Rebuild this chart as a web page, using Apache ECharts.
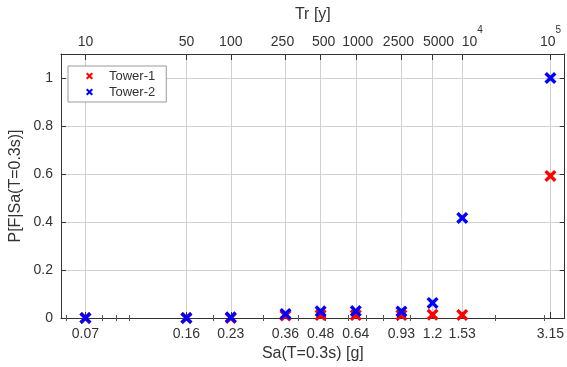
<!DOCTYPE html>
<html>
<head>
<meta charset="utf-8">
<script src="https://cdn.jsdelivr.net/npm/echarts@6/dist/echarts.min.js"></script>
<style>
  html, body { margin: 0; padding: 0; background: #fff; }
  #main { width: 567px; height: 367px; }
</style>
</head>
<body>
<div id="main"></div>
<script>
// spectral acceleration levels (bottom axis) and matching return periods (top axis)
const saValues = [0.07, 0.16, 0.23, 0.36, 0.48, 0.64, 0.93, 1.2, 1.53, 3.15];
const trLabels = ['10', '50', '100', '250', '500', '1000', '2500', '5000', '10^4', '10^5'];
const minorTicks = [0.06, 0.08, 0.09, 0.1, 0.2, 0.3, 0.4, 0.5, 0.6, 0.7, 0.8, 0.9, 1, 2, 3];
const yTicks = [0, 0.2, 0.4, 0.6, 0.8, 1];

// probability of failure per level
const tower1 = [0, 0, 0, 0.01, 0.012, 0.012, 0.012, 0.014, 0.013, 0.592];
const tower2 = [0, 0, 0.003, 0.017, 0.028, 0.029, 0.027, 0.063, 0.417, 1.0];

const xMin = 0.0573, xMax = 3.54;
const font = 'Liberation Sans, Arial, sans-serif';
const txt = '#333';
const lineCol = '#333';
const cross = 'path://M0,2L2,0L5,3L8,0L10,2L7,5L10,8L8,10L5,7L2,10L0,8L3,5Z';

// small horizontal nudges of the top labels (px), as laid out in the original
const trShift = [0, 0, 0, -3, 3, 2, -3, 6, 10, 0];

function pairs(ys) {
  return saValues.map((x, i) => [x, ys[i]]);
}

function trFormat(v) {
  const i = saValues.findIndex(s => Math.abs(s - v) < 1e-6);
  if (i < 0) return '';
  const t = trLabels[i];
  const d = trShift[i];
  const pad = d > 0 ? '{pl' + d + '|}' : '';
  const padR = d < 0 ? '{pr' + (-d) + '|}' : '';
  let body;
  if (t.indexOf('^') > 0) {
    const p = t.split('^');
    body = '{b|' + p[0] + '}{s|' + p[1] + '}';
  } else {
    body = '{b|' + t + '}';
  }
  return pad + body + padR;
}

const richTop = {
  b: { fontFamily: font, fontSize: 14, color: txt, lineHeight: 24, verticalAlign: 'bottom' },
  s: { fontFamily: font, fontSize: 10, color: txt, lineHeight: 24, verticalAlign: 'top' }
};
trShift.forEach(d => {
  if (d > 0) richTop['pl' + d] = { width: 2 * d, lineHeight: 24 };
  if (d < 0) richTop['pr' + (-d)] = { width: -2 * d, lineHeight: 24 };
});

const chart = echarts.init(document.getElementById('main'));

const baseX = {
  type: 'log',
  min: xMin,
  max: xMax,
  axisLine: { show: true, onZero: false, lineStyle: { color: lineCol, width: 1 } },
  axisTick: { inside: true, length: 6, lineStyle: { color: lineCol } },
  splitLine: { show: false },
  axisLabel: { show: false }
};

chart.setOption({
  animation: false,
  textStyle: { fontFamily: font },
  grid: { left: 58, right: 1, top: 54, bottom: 48 },
  legend: {
    orient: 'vertical',
    left: 68,
    top: 66,
    padding: [3, 11, 3, 18],
    itemWidth: 29,
    itemHeight: 7,
    itemGap: 2,
    backgroundColor: '#fff',
    borderColor: '#999',
    borderWidth: 1,
    borderRadius: 0,
    textStyle: { fontFamily: font, fontSize: 13, color: txt, lineHeight: 14 },
    data: ['Tower-1', 'Tower-2']
  },
  xAxis: [
    Object.assign({}, baseX, {
      position: 'bottom',
      name: 'Sa(T=0.3s) [g]',
      nameLocation: 'middle',
      nameGap: 28,
      nameMoveOverlap: false,
      nameTextStyle: { fontFamily: font, fontSize: 16, color: txt },
      axisTick: { inside: true, length: 6, customValues: saValues, lineStyle: { color: lineCol } },
      axisLabel: {
        show: true, customValues: saValues, margin: 9,
        fontFamily: font, fontSize: 14, color: txt,
        formatter: v => String(saValues.find(s => Math.abs(s - v) < 1e-6))
      },
      splitLine: { show: true, lineStyle: { color: '#d0d0d0', width: 1 } }
    }),
    Object.assign({}, baseX, {
      position: 'top',
      name: 'Tr [y]',
      nameLocation: 'middle',
      nameGap: 31,
      nameMoveOverlap: false,
      nameTextStyle: { fontFamily: font, fontSize: 16, color: txt },
      axisTick: { inside: true, length: 6, customValues: saValues, lineStyle: { color: lineCol } },
      axisLabel: {
        show: true, customValues: saValues, margin: 5,
        fontFamily: font, fontSize: 14, color: txt,
        formatter: trFormat,
        rich: richTop
      }
    }),
    Object.assign({}, baseX, {
      position: 'bottom',
      axisLine: { show: false },
      axisTick: { inside: true, length: 3, customValues: minorTicks, lineStyle: { color: '#555' } }
    }),
    Object.assign({}, baseX, {
      position: 'top',
      axisLine: { show: false },
      axisTick: { inside: true, length: 3, customValues: minorTicks, lineStyle: { color: '#555' } }
    })
  ],
  yAxis: [
    {
      type: 'value',
      position: 'left',
      min: 0,
      max: 1.1,
      name: 'P[F|Sa(T=0.3s)]',
      nameLocation: 'middle',
      nameGap: 37,
      nameMoveOverlap: false,
      nameTextStyle: { fontFamily: font, fontSize: 16, color: txt },
      axisLine: { show: true, lineStyle: { color: lineCol, width: 1 } },
      axisTick: { show: true, inside: true, length: 5, customValues: yTicks, lineStyle: { color: lineCol } },
      axisLabel: { customValues: yTicks, margin: 8, fontFamily: font, fontSize: 14, color: txt },
      splitLine: { show: true, lineStyle: { color: '#d0d0d0', width: 1 } }
    },
    {
      type: 'value',
      position: 'right',
      min: 0,
      max: 1.1,
      axisLine: { show: true, lineStyle: { color: lineCol, width: 1 } },
      axisTick: { show: true, inside: true, length: 5, customValues: yTicks, lineStyle: { color: lineCol } },
      axisLabel: { show: false },
      splitLine: { show: false }
    }
  ],
  series: [
    {
      name: 'Tower-1',
      type: 'scatter',
      xAxisIndex: 0,
      yAxisIndex: 0,
      symbol: cross,
      symbolSize: 12,
      itemStyle: { color: '#ff0000', opacity: 1 },
      data: pairs(tower1)
    },
    {
      name: 'Tower-2',
      type: 'scatter',
      xAxisIndex: 0,
      yAxisIndex: 0,
      symbol: cross,
      symbolSize: 12,
      itemStyle: { color: '#0000ff', opacity: 1 },
      data: pairs(tower2)
    }
  ]
});
</script>
</body>
</html>
